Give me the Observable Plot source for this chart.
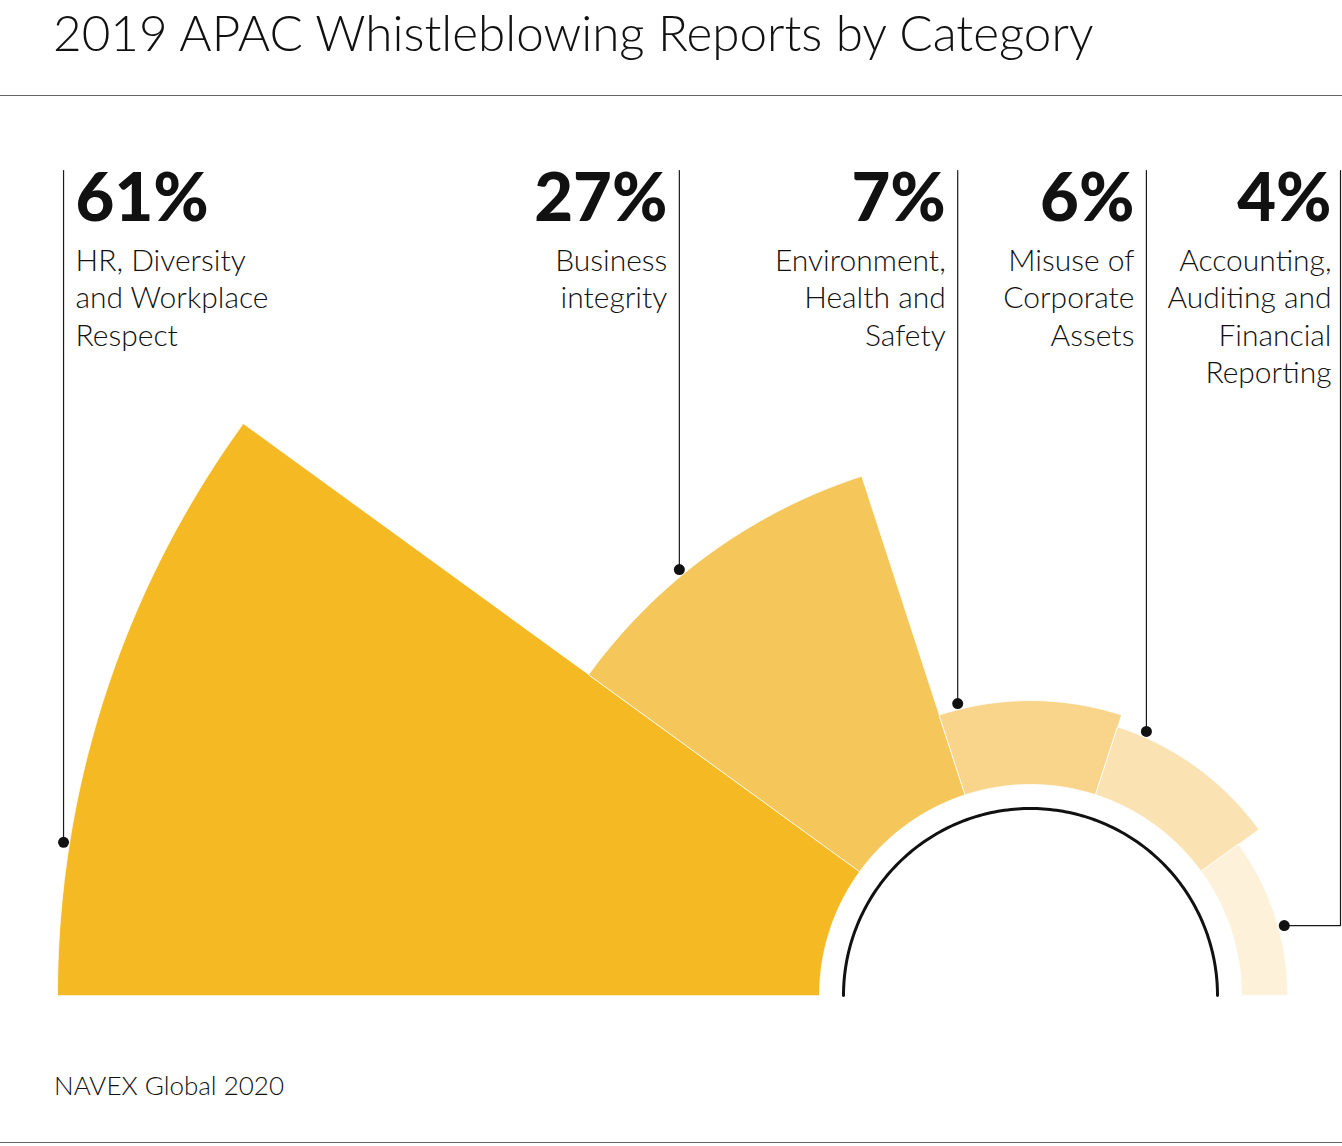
<!DOCTYPE html>
<html>
<head>
<meta charset="utf-8">
<script src="https://cdn.jsdelivr.net/npm/d3@7"></script>
<script src="https://cdn.jsdelivr.net/npm/@observablehq/plot@0.6"></script>
<style>
  html, body { margin: 0; padding: 0; background: #fff; }
  #wrap { position: relative; width: 1342px; height: 1146px; overflow: hidden; font-family: Lato, "Noto Sans", sans-serif; color: #111; }
  #title { position: absolute; left: 53px; top: 8px; font-size: 49.4px; line-height: 49.5px; font-weight: 300; white-space: nowrap; }
  .rule { position: absolute; left: 0; width: 1342px; height: 0; border-top: 1.5px solid #666; }
  #chart { position: absolute; left: 0; top: 96px; }
  #foot { position: absolute; left: 54px; top: 1072px; font-size: 26px; line-height: 26px; font-weight: 300; white-space: nowrap; color: #111; }
</style>
</head>
<body>
<div id="wrap">
  <div id="title">2019 APAC Whistleblowing Reports by Category</div>
  <div class="rule" style="top:95px"></div>
  <div id="chart"></div>
  <div id="foot">NAVEX Global 2020</div>
  <div class="rule" style="top:1142px"></div>
</div>
<script>
// ---- data ----
const categories = [
  "HR, Diversity and Workplace Respect",
  "Business integrity",
  "Environment, Health and Safety",
  "Misuse of Corporate Assets",
  "Accounting, Auditing and Financial Reporting"
];
const labelText = [
  "HR, Diversity\nand Workplace\nRespect",
  "Business\nintegrity",
  "Environment,\nHealth and\nSafety",
  "Misuse of\nCorporate\nAssets",
  "Accounting,\nAuditing and\nFinancial\nReporting"
];
const values = [61, 27, 7, 6, 4];
const valueLabels = ["61%", "27%", "7%", "6%", "4%"];

// ---- style / layout ----
const colors = ["#F5B923", "#F5C65A", "#F9D48B", "#FBE2B2", "#FDF1DA"];
const W = 1342, H = 950;
const CX = 1030, CY = 899;            // centre of the half-disc in svg pixels
const R_INNER = 211, R_RING = 187;
const rScale = d3.scaleLinear([0, 61], [207, 973]);   // value -> outer radius
const leaderAngle = [171, 129.5, 104, 66.3, 15.4];     // degrees where each leader meets its sector
const DOT_OFFSET = 6;
const TOP_LINE = 825;                  // leader tops (units above centre)
const ELBOW_X = 310;                   // last leader's vertical
const PCT_Y = 822, CAT_Y = 751.6;
const PCT_SIZE = 67, CAT_SIZE = 30, CAT_LH = 37.5 / 30;

const rad = d => d * Math.PI / 180;
const sweep = 180 / values.length;

// sector outlines
const sectors = [];
values.forEach((v, i) => {
  const a0 = 180 - i * sweep, a1 = a0 - sweep, ro = rScale(v);
  const n = 90;
  for (let k = 0; k <= n; k++) {
    const a = a0 + (a1 - a0) * k / n;
    sectors.push({cat: categories[i], x: ro * Math.cos(rad(a)), y: ro * Math.sin(rad(a))});
  }
  for (let k = 0; k <= n; k++) {
    const a = a1 + (a0 - a1) * k / n;
    sectors.push({cat: categories[i], x: R_INNER * Math.cos(rad(a)), y: R_INNER * Math.sin(rad(a))});
  }
});

// inner ring
const ring = d3.range(0, 181).map(a => ({x: R_RING * Math.cos(rad(180 - a)), y: R_RING * Math.sin(rad(180 - a))}));

// leader dots + lines
const dots = values.map((v, i) => {
  const r = rScale(v) + DOT_OFFSET;
  return {cat: categories[i], x: r * Math.cos(rad(leaderAngle[i])), y: r * Math.sin(rad(leaderAngle[i]))};
});
const leaders = [];
dots.forEach((d, i) => {
  if (i < dots.length - 1) {
    leaders.push({cat: d.cat, x: d.x, y: TOP_LINE}, {cat: d.cat, x: d.x, y: d.y});
  } else {
    leaders.push({cat: d.cat, x: ELBOW_X, y: TOP_LINE}, {cat: d.cat, x: ELBOW_X, y: d.y}, {cat: d.cat, x: d.x, y: d.y});
  }
});
const leaderX = dots.map((d, i) => i < dots.length - 1 ? d.x : ELBOW_X);
const labels = values.map((v, i) => ({
  pct: valueLabels[i],
  text: labelText[i],
  x: i === 0 ? leaderX[i] + 12 : leaderX[i] - (i === values.length - 1 ? 9 : 12)
}));

const chart = Plot.plot({
  width: W,
  height: H,
  margin: 0,
  style: {fontFamily: "Lato, 'Noto Sans', sans-serif", background: "white", color: "#111"},
  x: {domain: [-CX, W - CX], range: [0, W], axis: null},
  y: {domain: [CY - H, CY], range: [H, 0], axis: null},
  color: {domain: categories, range: colors},
  marks: [
    Plot.line(sectors, {x: "x", y: "y", z: "cat", fill: "cat", stroke: "white", strokeWidth: 0.8, curve: "linear-closed"}),
    Plot.line(ring, {x: "x", y: "y", stroke: "#111", strokeWidth: 3}),
    Plot.line(leaders, {x: "x", y: "y", z: "cat", stroke: "#1a1a1a", strokeWidth: 1.2}),
    Plot.dot(dots, {x: "x", y: "y", r: 5.5, fill: "#111", stroke: "none"}),
    Plot.text(labels.slice(0, 1), {x: "x", y: () => PCT_Y, text: "pct", textAnchor: "start", lineAnchor: "top", fontSize: PCT_SIZE, fontWeight: 900, fill: "#111"}),
    Plot.text(labels.slice(1), {x: "x", y: () => PCT_Y, text: "pct", textAnchor: "end", lineAnchor: "top", fontSize: PCT_SIZE, fontWeight: 900, fill: "#111"}),
    Plot.text(labels.slice(0, 1), {x: "x", y: () => CAT_Y, text: "text", textAnchor: "start", lineAnchor: "top", lineHeight: CAT_LH, fontSize: CAT_SIZE, fontWeight: 300, fill: "#111"}),
    Plot.text(labels.slice(1), {x: "x", y: () => CAT_Y, text: "text", textAnchor: "end", lineAnchor: "top", lineHeight: CAT_LH, fontSize: CAT_SIZE, fontWeight: 300, fill: "#111"})
  ]
});
document.getElementById("chart").appendChild(chart);
</script>
</body>
</html>
